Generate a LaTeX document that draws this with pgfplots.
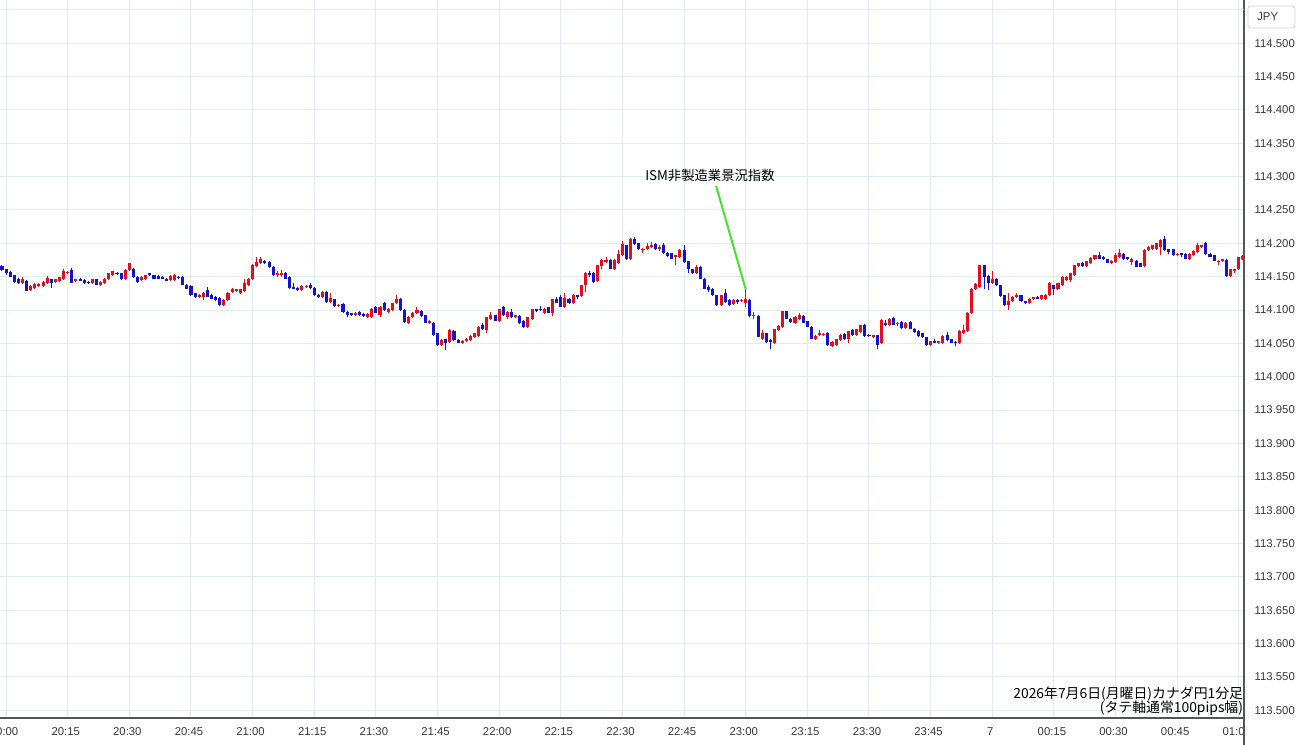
\documentclass[border=0pt]{standalone}
\usepackage{pgfplots}
\pgfplotsset{compat=1.18}
\usepackage{pgfplotstable}
\usepackage{fontspec}
\setmainfont{Liberation Sans}
\newfontfamily\cjk{Noto Sans CJK JP}
\definecolor{cred}{RGB}{232,12,24}
\definecolor{cblue}{RGB}{18,18,215}
\definecolor{gridc}{RGB}{226,234,242}
\definecolor{axisc}{RGB}{85,85,85}
\definecolor{labc}{RGB}{55,55,55}
\definecolor{cgreen}{RGB}{70,225,40}

\pgfplotstableread{
t o h l c
4 114.140 114.149 114.139 114.146
6 114.130 114.137 114.129 114.136
7 114.133 114.141 114.132 114.139
8 114.136 114.141 114.135 114.139
9 114.136 114.143 114.135 114.142
10 114.140 114.151 114.139 114.148
12 114.142 114.147 114.141 114.146
13 114.144 114.150 114.143 114.149
14 114.147 114.161 114.146 114.159
15 114.156 114.159 114.155 114.157
17 114.143 114.147 114.142 114.146
21 114.140 114.147 114.139 114.146
23 114.138 114.143 114.137 114.142
24 114.141 114.148 114.140 114.147
25 114.146 114.156 114.145 114.155
26 114.152 114.159 114.151 114.158
29 114.146 114.161 114.145 114.160
30 114.160 114.171 114.159 114.170
33 114.145 114.151 114.144 114.150
34 114.147 114.153 114.146 114.152
40 114.145 114.152 114.144 114.151
41 114.145 114.154 114.144 114.152
47 114.120 114.124 114.119 114.123
48 114.120 114.127 114.115 114.126
53 114.107 114.116 114.106 114.115
54 114.115 114.127 114.114 114.126
55 114.127 114.133 114.126 114.131
56 114.128 114.132 114.127 114.131
57 114.125 114.132 114.124 114.131
58 114.128 114.146 114.127 114.140
59 114.138 114.148 114.137 114.147
60 114.146 114.169 114.145 114.168
61 114.166 114.180 114.165 114.172
62 114.170 114.180 114.169 114.176
66 114.152 114.159 114.149 114.156
67 114.153 114.160 114.150 114.156
72 114.130 114.137 114.129 114.136
73 114.134 114.137 114.133 114.136
77 114.120 114.128 114.119 114.127
79 114.112 114.125 114.111 114.118
81 114.106 114.109 114.105 114.108
85 114.092 114.097 114.091 114.096
88 114.090 114.096 114.089 114.094
89 114.090 114.103 114.089 114.102
91 114.093 114.106 114.090 114.105
93 114.097 114.103 114.096 114.102
94 114.100 114.111 114.099 114.110
95 114.110 114.122 114.109 114.117
98 114.081 114.091 114.080 114.090
99 114.090 114.097 114.089 114.096
100 114.096 114.105 114.095 114.100
103 114.081 114.085 114.080 114.083
106 114.047 114.056 114.046 114.055
108 114.052 114.071 114.051 114.070
111 114.051 114.055 114.050 114.054
112 114.053 114.058 114.052 114.057
113 114.055 114.062 114.054 114.061
114 114.059 114.066 114.058 114.065
115 114.061 114.076 114.060 114.075
117 114.070 114.090 114.066 114.089
118 114.086 114.097 114.085 114.092
120 114.084 114.102 114.083 114.101
122 114.089 114.098 114.086 114.097
124 114.089 114.093 114.088 114.092
127 114.074 114.090 114.073 114.089
128 114.086 114.102 114.085 114.101
131 114.096 114.103 114.095 114.102
133 114.096 114.117 114.091 114.116
136 114.105 114.125 114.104 114.118
138 114.110 114.124 114.109 114.123
140 114.121 114.138 114.120 114.137
141 114.137 114.157 114.127 114.156
144 114.144 114.168 114.143 114.167
145 114.166 114.176 114.161 114.175
146 114.172 114.180 114.171 114.175
148 114.162 114.176 114.161 114.175
149 114.171 114.190 114.170 114.184
150 114.182 114.203 114.181 114.199
152 114.176 114.208 114.175 114.207
155 114.190 114.193 114.186 114.192
156 114.191 114.200 114.190 114.196
157 114.195 114.202 114.194 114.197
159 114.192 114.197 114.189 114.195
163 114.180 114.183 114.168 114.182
164 114.180 114.191 114.179 114.190
168 114.155 114.167 114.154 114.165
174 114.107 114.123 114.106 114.122
177 114.109 114.116 114.108 114.115
179 114.113 114.116 114.112 114.115
180 114.110 114.132 114.105 114.116
182 114.091 114.097 114.087 114.093
184 114.057 114.070 114.056 114.066
187 114.050 114.072 114.049 114.071
188 114.070 114.077 114.069 114.076
189 114.075 114.099 114.074 114.098
192 114.080 114.091 114.079 114.090
193 114.087 114.095 114.086 114.092
197 114.056 114.062 114.055 114.061
198 114.062 114.070 114.061 114.065
199 114.062 114.065 114.061 114.064
201 114.046 114.053 114.045 114.052
202 114.048 114.057 114.047 114.056
203 114.055 114.064 114.054 114.063
205 114.057 114.069 114.050 114.068
207 114.063 114.072 114.062 114.071
208 114.067 114.078 114.066 114.077
211 114.060 114.063 114.059 114.062
213 114.050 114.086 114.049 114.085
215 114.077 114.088 114.076 114.087
217 114.079 114.082 114.076 114.081
219 114.073 114.082 114.072 114.081
225 114.047 114.054 114.046 114.053
227 114.051 114.054 114.050 114.053
228 114.051 114.062 114.050 114.061
232 114.051 114.070 114.050 114.069
233 114.066 114.078 114.065 114.070
234 114.069 114.097 114.068 114.096
235 114.096 114.133 114.095 114.132
236 114.132 114.140 114.131 114.139
237 114.135 114.168 114.134 114.167
240 114.140 114.158 114.139 114.147
244 114.107 114.125 114.100 114.113
245 114.113 114.121 114.112 114.120
246 114.120 114.125 114.119 114.122
249 114.110 114.118 114.109 114.117
250 114.116 114.120 114.115 114.119
252 114.117 114.123 114.116 114.122
253 114.117 114.124 114.116 114.123
254 114.122 114.142 114.121 114.140
256 114.132 114.141 114.131 114.140
257 114.137 114.151 114.136 114.150
258 114.145 114.151 114.144 114.150
259 114.145 114.156 114.142 114.155
260 114.152 114.168 114.151 114.167
261 114.166 114.171 114.165 114.170
263 114.166 114.174 114.165 114.173
264 114.171 114.179 114.170 114.178
265 114.176 114.183 114.175 114.182
269 114.171 114.175 114.170 114.174
270 114.172 114.186 114.171 114.182
271 114.180 114.191 114.179 114.185
274 114.172 114.178 114.167 114.177
277 114.166 114.191 114.165 114.190
278 114.190 114.196 114.189 114.195
279 114.191 114.198 114.190 114.197
280 114.192 114.201 114.191 114.200
281 114.195 114.206 114.182 114.205
285 114.182 114.185 114.181 114.184
288 114.177 114.185 114.176 114.184
289 114.182 114.190 114.181 114.189
290 114.187 114.201 114.186 114.197
291 114.195 114.198 114.194 114.197
295 114.172 114.175 114.168 114.174
296 114.173 114.177 114.172 114.176
298 114.151 114.162 114.150 114.161
299 114.159 114.162 114.156 114.161
300 114.161 114.180 114.160 114.179
301 114.176 114.182 114.175 114.181
}\up

\pgfplotstableread{
t o h l c
-1 114.166 114.167 114.159 114.160
0 114.161 114.162 114.153 114.155
1 114.157 114.158 114.149 114.150
2 114.152 114.153 114.141 114.142
3 114.147 114.148 114.139 114.140
5 114.144 114.145 114.128 114.129
11 114.146 114.147 114.133 114.140
16 114.160 114.163 114.140 114.141
18 114.147 114.148 114.143 114.144
19 114.145 114.146 114.139 114.140
20 114.142 114.143 114.139 114.140
22 114.146 114.147 114.137 114.138
27 114.156 114.157 114.153 114.154
28 114.155 114.156 114.145 114.146
31 114.162 114.163 114.148 114.149
32 114.150 114.151 114.141 114.142
35 114.155 114.156 114.151 114.152
36 114.152 114.153 114.146 114.147
37 114.151 114.152 114.146 114.147
38 114.150 114.151 114.146 114.147
39 114.147 114.148 114.143 114.144
42 114.150 114.151 114.147 114.148
43 114.150 114.151 114.137 114.138
44 114.138 114.139 114.131 114.132
45 114.136 114.137 114.121 114.122
46 114.125 114.126 114.118 114.119
49 114.130 114.135 114.119 114.120
50 114.123 114.124 114.116 114.117
51 114.120 114.121 114.114 114.115
52 114.118 114.119 114.106 114.107
63 114.174 114.175 114.169 114.170
64 114.172 114.173 114.163 114.164
65 114.165 114.166 114.151 114.152
68 114.156 114.157 114.146 114.147
69 114.150 114.151 114.132 114.133
70 114.135 114.141 114.131 114.132
71 114.133 114.134 114.129 114.130
74 114.137 114.140 114.132 114.133
75 114.133 114.134 114.121 114.122
76 114.123 114.124 114.118 114.119
78 114.127 114.128 114.111 114.112
80 114.116 114.117 114.105 114.106
82 114.109 114.110 114.096 114.097
83 114.097 114.098 114.090 114.092
84 114.095 114.096 114.091 114.092
86 114.097 114.098 114.091 114.092
87 114.094 114.095 114.090 114.091
90 114.105 114.106 114.095 114.096
92 114.110 114.112 114.099 114.100
96 114.117 114.118 114.099 114.100
97 114.100 114.101 114.081 114.082
101 114.099 114.100 114.090 114.091
102 114.092 114.093 114.080 114.081
104 114.081 114.082 114.061 114.062
105 114.065 114.066 114.046 114.047
107 114.056 114.057 114.040 114.050
109 114.069 114.070 114.054 114.055
110 114.055 114.056 114.050 114.051
116 114.077 114.080 114.070 114.071
119 114.092 114.093 114.083 114.084
121 114.104 114.106 114.091 114.092
123 114.097 114.102 114.088 114.089
125 114.091 114.092 114.079 114.080
126 114.084 114.085 114.073 114.074
129 114.101 114.102 114.097 114.099
130 114.102 114.106 114.099 114.100
132 114.104 114.105 114.095 114.096
134 114.117 114.120 114.110 114.111
135 114.120 114.122 114.104 114.105
137 114.117 114.118 114.109 114.110
139 114.122 114.123 114.117 114.120
142 114.156 114.158 114.150 114.152
143 114.156 114.157 114.140 114.142
147 114.175 114.176 114.161 114.162
151 114.197 114.198 114.175 114.176
153 114.206 114.209 114.198 114.199
154 114.200 114.201 114.190 114.191
158 114.199 114.201 114.190 114.191
160 114.197 114.201 114.184 114.185
161 114.186 114.187 114.180 114.181
162 114.185 114.186 114.176 114.177
165 114.190 114.197 114.171 114.172
166 114.173 114.174 114.155 114.161
167 114.161 114.162 114.154 114.155
169 114.165 114.166 114.146 114.147
170 114.147 114.148 114.131 114.132
171 114.134 114.137 114.127 114.130
172 114.132 114.133 114.121 114.122
173 114.122 114.123 114.106 114.107
175 114.125 114.132 114.111 114.112
176 114.115 114.116 114.106 114.107
178 114.115 114.117 114.109 114.112
181 114.115 114.116 114.090 114.091
183 114.091 114.092 114.059 114.060
185 114.065 114.066 114.051 114.052
186 114.055 114.057 114.042 114.052
190 114.098 114.099 114.086 114.087
191 114.087 114.088 114.080 114.082
194 114.091 114.092 114.080 114.081
195 114.083 114.084 114.074 114.075
196 114.075 114.076 114.056 114.057
200 114.066 114.067 114.046 114.047
204 114.064 114.065 114.055 114.056
206 114.070 114.071 114.061 114.062
209 114.078 114.079 114.060 114.061
210 114.063 114.064 114.060 114.061
212 114.062 114.063 114.042 114.047
214 114.081 114.085 114.076 114.077
216 114.088 114.089 114.077 114.078
218 114.082 114.083 114.072 114.073
220 114.082 114.083 114.071 114.072
221 114.072 114.073 114.066 114.067
222 114.069 114.070 114.060 114.061
223 114.065 114.066 114.058 114.059
224 114.059 114.060 114.046 114.047
226 114.053 114.056 114.050 114.051
229 114.062 114.067 114.054 114.055
230 114.056 114.057 114.050 114.051
231 114.052 114.053 114.046 114.050
238 114.167 114.168 114.132 114.150
239 114.151 114.152 114.130 114.140
241 114.147 114.148 114.136 114.137
242 114.137 114.138 114.120 114.121
243 114.122 114.123 114.106 114.107
247 114.122 114.123 114.112 114.113
248 114.113 114.114 114.109 114.110
251 114.120 114.121 114.116 114.117
255 114.137 114.138 114.122 114.132
262 114.171 114.172 114.165 114.166
266 114.183 114.187 114.176 114.177
267 114.180 114.181 114.175 114.176
268 114.176 114.177 114.170 114.171
272 114.184 114.185 114.175 114.176
273 114.179 114.180 114.175 114.176
275 114.174 114.175 114.164 114.165
276 114.170 114.171 114.164 114.165
282 114.207 114.211 114.189 114.190
283 114.191 114.192 114.184 114.187
284 114.191 114.192 114.181 114.182
286 114.185 114.186 114.180 114.182
287 114.184 114.185 114.176 114.177
292 114.200 114.202 114.183 114.184
293 114.184 114.185 114.179 114.180
294 114.182 114.183 114.173 114.174
297 114.175 114.176 114.150 114.151
}\down

\begin{document}
\begin{tikzpicture}
\begin{axis}[
  at={(0pt,0pt)}, anchor=south west,
  scale only axis, width=933pt, height=538.5pt,
  xmin=-1.48, xmax=301.27, ymin=113.4883, ymax=114.5648,
  axis x line*=bottom, axis y line*=right,
  axis line style={draw=axisc, line width=1.1pt},
  xtick={0,15,...,300},
  xticklabels={20:00,20:15,20:30,20:45,21:00,21:15,21:30,21:45,22:00,22:15,22:30,22:45,23:00,23:15,23:30,23:45,7,00:15,00:30,00:45,01:00},
  ytick={113.5,113.55,...,114.52},
  extra y ticks={114.55}, extra y tick labels={},
  extra tick style={grid=major},
  grid=major,
  major grid style={draw=gridc, line width=0.75pt},
  major tick length=0pt,
  /pgf/number format/assume math mode=true,
  tick label style={font=\fontsize{8.5}{10}\selectfont, text=labc},
  yticklabel style={anchor=west, xshift=4.5pt, /pgf/number format/fixed, /pgf/number format/fixed zerofill, /pgf/number format/precision=3, /pgf/number format/1000 sep={}},
  xticklabel style={yshift=-3.5pt, xshift=-1.5pt},
  candle/.style={draw=none, mark=none, forget plot},
]
% wicks
\addplot[candle,
  error bars/.cd, y dir=both, y explicit, error mark=none,
  error bar style={line width=0.75pt, draw=cred}]
  table[x=t, y=o, y error plus expr=\thisrow{h}-\thisrow{o}, y error minus expr=\thisrow{o}-\thisrow{l}] {\up};
\addplot[candle,
  error bars/.cd, y dir=both, y explicit, error mark=none,
  error bar style={line width=0.75pt, draw=cblue}]
  table[x=t, y=o, y error plus expr=\thisrow{h}-\thisrow{o}, y error minus expr=\thisrow{o}-\thisrow{l}] {\down};
% bodies
\addplot[candle,
  error bars/.cd, y dir=plus, y explicit, error mark=none,
  error bar style={line width=2.3pt, draw=cred}]
  table[x=t, y=o, y error plus expr=\thisrow{c}-\thisrow{o}] {\up};
\addplot[candle,
  error bars/.cd, y dir=plus, y explicit, error mark=none,
  error bar style={line width=2.3pt, draw=cblue}]
  table[x=t, y=c, y error plus expr=\thisrow{o}-\thisrow{c}] {\down};
% annotation
\draw[cgreen, line width=1.5pt] (axis cs:172.8,114.286) -- (axis cs:180,114.131);
\node[font=\cjk\fontsize{10}{12}\selectfont, inner sep=0pt] at (axis cs:171.3,114.302) {ISM非製造業景況指数};
\node[font=\cjk\fontsize{10.4}{12}\selectfont, anchor=east, inner sep=0pt] at (axis cs:301.1,113.524) {2026年7月6日(月曜日)カナダ円1分足};
\node[font=\cjk\fontsize{10.4}{12}\selectfont, anchor=east, inner sep=0pt] at (axis cs:301.1,113.503) {(タテ軸通常100pips幅)};
\end{axis}
\fill[white] (933.6pt,-20.25pt) rectangle (975pt,-0.6pt);
\draw[axisc, line width=1.1pt] (933pt,-20.25pt) -- (933pt,0pt);
\draw[gray!35, line width=0.6pt, rounded corners=2pt] (936pt,517.5pt) rectangle (971.25pt,534pt);
\node[anchor=west, inner sep=0pt, font=\fontsize{8.5}{10}\selectfont, text=labc] at (942.75pt,525.75pt) {JPY};
\pgfresetboundingbox
\path[use as bounding box] (0pt,-20.25pt) rectangle (975pt,538.5pt);
\end{tikzpicture}
\end{document}
